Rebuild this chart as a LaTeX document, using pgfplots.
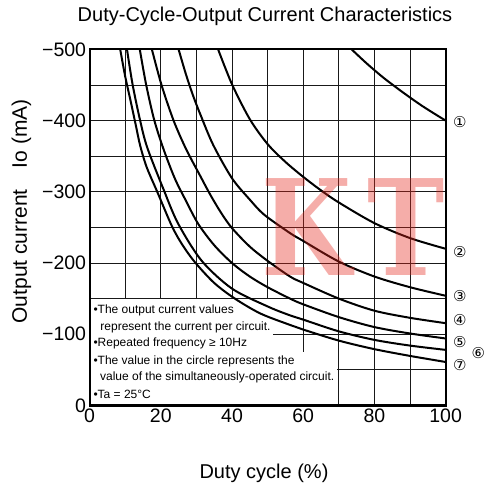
\documentclass[border=0pt]{standalone}
\usepackage{pgfplots}
\pgfplotsset{compat=1.18}
\usepackage{graphicx}
\usepackage{fontspec}
\setmainfont{Liberation Sans}
\newfontfamily\circfont{DejaVu Sans}
\newfontfamily\wmfont{DejaVu Serif}
\definecolor{wmred}{RGB}{228,40,30}
\begin{document}
\begin{tikzpicture}
\begin{axis}[
  width=356pt, height=356pt, scale only axis,
  xmin=0, xmax=100, ymin=-500, ymax=0, y dir=reverse,
  xtick={0,20,...,100}, minor xtick={10,30,...,90},
  ytick={-500,-400,...,0}, minor ytick={-450,-350,...,-50},
  xticklabels={0,20,40,60,80,100},
  yticklabels={−500,−400,−300,−200,−100,0},
  grid=both,
  major grid style={black!90,line width=0.9pt},
  minor grid style={black!90,line width=0.9pt},
  major tick length=0pt, minor tick length=0pt,
  axis line style={line width=2.2pt},
  tick label style={font=\fontsize{19.5}{20}\selectfont},
  clip=false,
]
% bounding box
\path ([shift={(-89.6pt,-84.6pt)}]axis cs:0,0) rectangle ([shift={(39.4pt,49.4pt)}]axis cs:100,-500);
% white note area
\fill[white] (axis cs:0.2,-150) rectangle (axis cs:51.5,-0.5);
\fill[white] (axis cs:0.2,-74.6) rectangle (axis cs:69.4,-0.5);
% curves
\addplot[black, line width=2pt, smooth] coordinates {(73.6,-500)(77.9,-480)(82.6,-460)(87.9,-440)(93.6,-420)(100,-400)};
\addplot[black, line width=2pt, smooth] coordinates {(36.1,-500)(40,-451)(45,-402)(50,-367)(55,-342)(60,-321)(65,-302)(70,-285)(80,-256)(90,-235)(100,-220)};
\addplot[black, line width=2pt, smooth] coordinates {(25,-500)(27,-466)(29,-436)(31,-410)(34.7,-366)(40,-319)(45,-289)(49,-268)(56.3,-242)(60,-231)(70,-202)(80,-181)(90,-166)(100,-154)};
\addplot[black, line width=2pt, smooth] coordinates {(17.5,-500)(20.2,-450)(23.6,-400)(27.1,-360)(31,-323)(34,-295)(37,-270)(40,-249)(45,-223)(50,-203)(56.3,-181)(60,-172)(70,-150)(80,-133)(90,-123)(100,-115.5)};
\addplot[black, line width=2pt, smooth] coordinates {(14.1,-500)(15.9,-450)(18.2,-400)(20.9,-358)(24,-318)(27,-288)(30.5,-255)(35,-225)(40,-200)(45,-181)(50,-166)(56.3,-150)(60,-142)(70,-124)(80,-110)(90,-101)(100,-94)};
\addplot[black, line width=2pt, smooth] coordinates {(10.5,-500)(12.1,-450)(14.2,-400)(16.2,-362)(20.8,-303)(24.9,-255)(31.5,-203)(40,-164)(50,-139)(56,-127)(60,-120.5)(70,-104)(80,-92)(90,-84)(100,-78)};
\addplot[black, line width=2pt, smooth] coordinates {(8.6,-500)(10,-462)(11.5,-428)(13,-393)(14.2,-365)(16,-335)(19,-300)(23.1,-252)(26,-226)(29.6,-201)(35,-172)(40.8,-150)(48,-129)(56.3,-113)(60,-106.5)(70,-91)(80,-79)(90,-69.5)(100,-61)};
% notes
\begin{scope}[every node/.style={anchor=base west, inner sep=0pt, font=\fontsize{12}{14}\selectfont}]
\node at (axis cs:1.04,-129.4) {•The output current values};
\node at (axis cs:3.0,-105.9) {represent the current per circuit.};
\node at (axis cs:1.04,-82.4) {•Repeated frequency ≥ 10Hz};
\node at (axis cs:1.04,-57.7) {•The value in the circle represents the};
\node at (axis cs:2.9,-34.3) {value of the simultaneously-operated circuit.};
\node at (axis cs:1.04,-9) {•Ta = 25°C};
\end{scope}
% circled labels
\begin{scope}[every node/.style={anchor=center, inner sep=0pt, font=\circfont\fontsize{15}{15}\selectfont}]
\node at (axis cs:104,-398) {①};
\node at (axis cs:104,-216) {②};
\node at (axis cs:104,-154) {③};
\node at (axis cs:104,-120) {④};
\node at (axis cs:104,-89.5) {⑤};
\node at (axis cs:109.2,-73) {⑥};
\node at (axis cs:104,-56.7) {⑦};
\end{scope}
% border
\draw[line width=2.2pt] (axis cs:0,0) rectangle (axis cs:100,-500);
% titles
\node[anchor=base, inner sep=0pt, font=\fontsize{20}{20}\selectfont] at ([shift={(-2.6pt,27.4pt)}]axis cs:50,-500) {Duty-Cycle-Output Current Characteristics};
\node[anchor=base, inner sep=0pt, font=\fontsize{20}{20}\selectfont] at ([shift={(-3.6pt,-72.6pt)}]axis cs:50,0) {Duty cycle (\%)};
\node[anchor=base, rotate=90, inner sep=0pt, font=\fontsize{21}{22}\selectfont] at ([shift={(-62.6pt,16pt)}]axis cs:0,-250) {Output current\hspace{1em}Io (mA)};
% watermark
\node[overlay, anchor=base west, inner sep=0pt, text=wmred, text opacity=0.38, font=\wmfont\bfseries\fontsize{133}{133}\selectfont] at (axis cs:48.3,-183) {\scalebox{0.78}[1]{K\hspace{20pt}T}};
\end{axis}
\end{tikzpicture}
\end{document}
